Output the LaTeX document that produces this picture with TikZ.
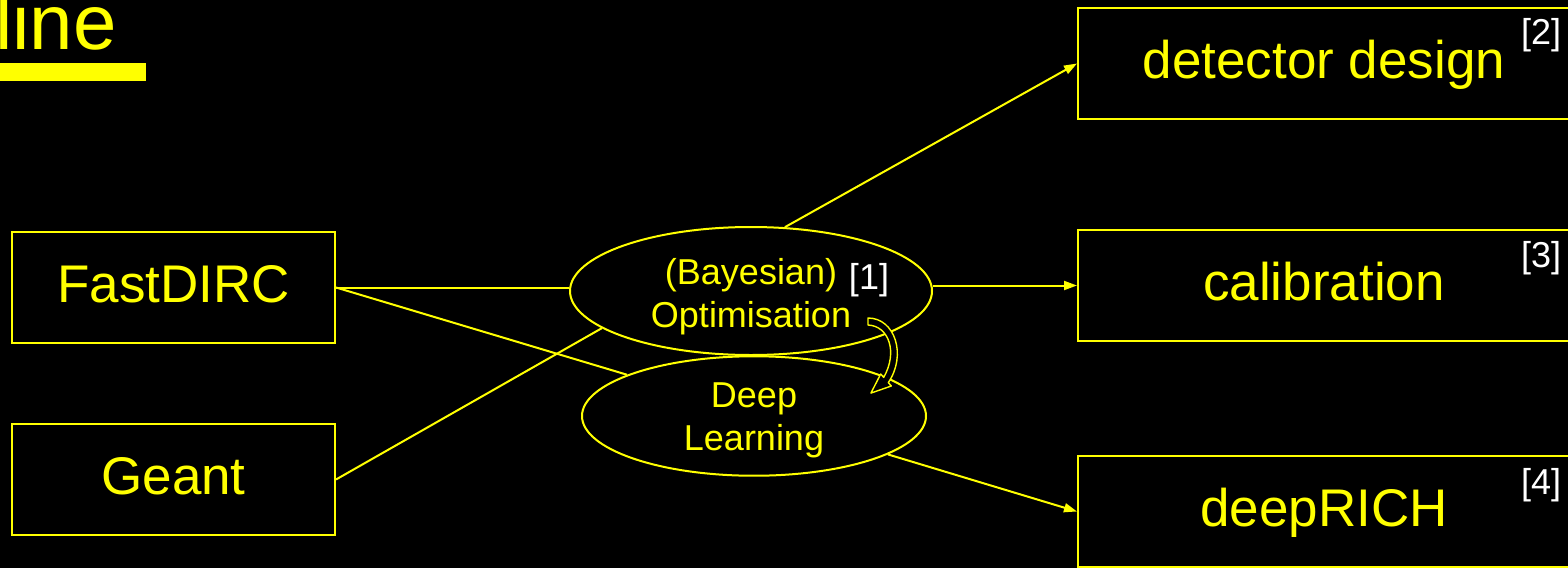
\documentclass[tikz,border=0pt]{standalone}
\usepackage{fontspec}
\setmainfont{Liberation Sans}
\usetikzlibrary{shapes.geometric,arrows.meta}
\definecolor{slideyellow}{RGB}{255,255,0}

\tikzset{
  box/.style={draw=slideyellow,line width=2pt,inner sep=0pt,text=slideyellow,
    minimum width=323pt,minimum height=111pt,text height=42pt,text depth=12pt,
    font=\fontsize{53}{60}\selectfont},
  widebox/.style={box,minimum width=492pt},
  blob/.style={ellipse,draw=slideyellow,line width=2pt,inner sep=0pt,text=slideyellow,
    align=center,font=\fontsize{36}{43}\selectfont},
  ref/.style={text=white,inner sep=0pt,font=\fontsize{36}{43}\selectfont},
  link/.style={draw=slideyellow,line width=2pt},
  feed/.style={link,-{Triangle[length=13pt,width=9pt]}}
}

\begin{document}
\begin{tikzpicture}[x=1pt,y=-1pt]
\clip (0,0) rectangle (1568,568);
\fill[black] (0,0) rectangle (1568,568);

% heading
\node[anchor=base west,inner sep=0pt,text=slideyellow,font=\fontsize{78}{90}\selectfont] (title) at (-5,49) {line};
\fill[slideyellow] (0,63) rectangle (146,81);

% inputs
\node[box] (fast) at (173.5,287.5) {FastDIRC};
\node[box] (geant) at (173.5,479.5) {Geant};

% methods
\node[blob,minimum width=362pt,minimum height=128pt] (opt) at (751,291) {\rule{0pt}{38pt}(Bayesian)\\Optimisation};
\node[blob,minimum width=344pt,minimum height=110pt] (dl) at (754,416) {\rule{0pt}{34pt}Deep\\Learning};
\node[ref] (r1) at (869,280) {[1]};

% applications
\node[widebox] (det) at (1324,63.5) {detector design};
\node[widebox] (calib) at (1324,285.5) {calibration};
\node[widebox] (rich) at (1324,511.5) {deepRICH};
\node[ref] (r2) at (1541,35) {[2]};
\node[ref] (r3) at (1541,258) {[3]};
\node[ref] (r4) at (1541,485) {[4]};

% connections
\draw[link] (fast.east) -- (fast.east -| opt.west);
\draw[link] (fast.east) -- (dl.162);
\draw[link] (geant.east) -- (opt.194);
\draw[feed] (opt.62) -- (det.west);
\draw[feed] (opt.east |- calib.west) -- (calib.west);
\draw[feed] (dl.-16) -- (rich.west);

% hollow bent arrow from Optimisation to Deep Learning
\filldraw[draw=slideyellow,fill=black,line width=1.4pt,line join=round]
  (868,318) .. controls (895,318) and (907,355) .. (888.3,382.6)
  -- (891.3,386) -- (870.9,393.1) -- (880.7,374) -- (883.7,377.4)
  .. controls (898,352) and (889,326) .. (868,325) -- cycle;
\end{tikzpicture}
\end{document}
